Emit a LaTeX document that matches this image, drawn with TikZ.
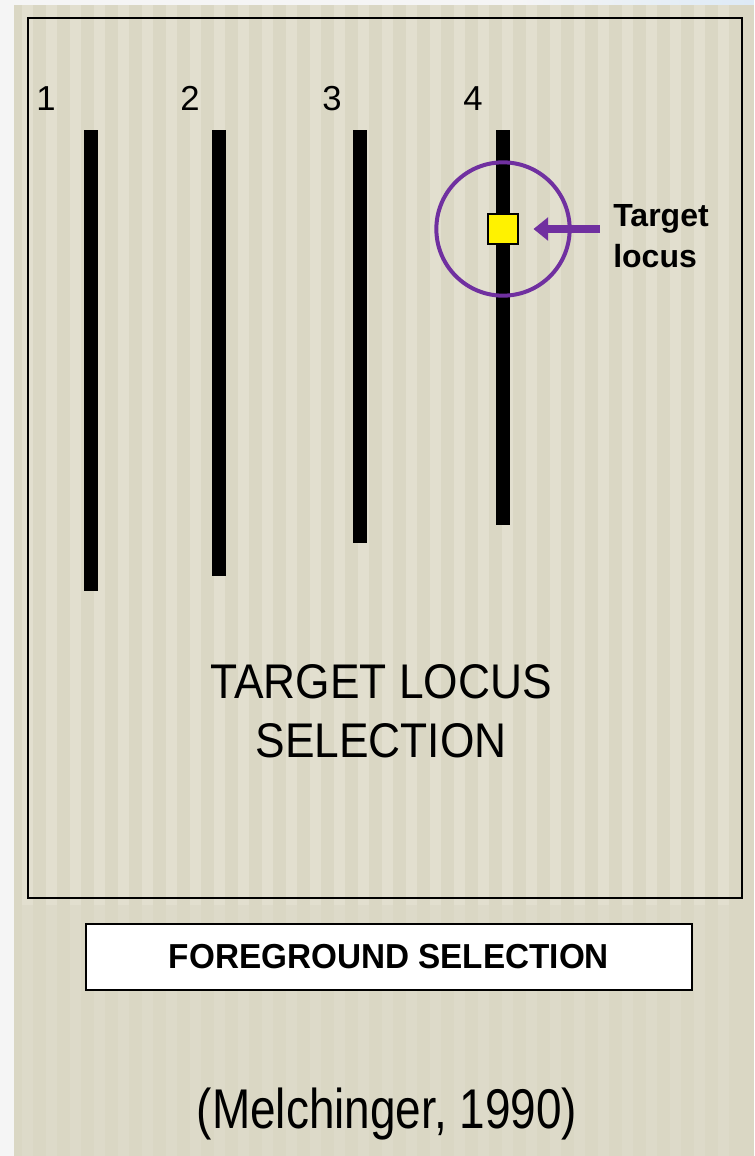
\documentclass[tikz,border=0pt]{standalone}
\usepackage{fontspec}
\setmainfont{Liberation Sans}
\usetikzlibrary{arrows.meta,positioning}
\definecolor{paper}{HTML}{DAD7C4}
\definecolor{stripe}{HTML}{ECEADD}
\definecolor{locuspurple}{HTML}{7030A0}
\definecolor{skyblue}{HTML}{DDEAF6}
\newcommand{\narrow}[2]{\scalebox{#1}[1]{#2}}

\begin{document}
\begin{tikzpicture}[x=0.75pt,y=-0.75pt]
  \tikzstyle{num}=[font=\fontsize{26}{30}\selectfont,anchor=base,inner sep=0pt]
  \tikzstyle{big}=[font=\fontsize{36.5}{40}\selectfont,anchor=base,inner sep=0pt]
  \tikzstyle{chrom}=[fill=black]

  \useasboundingbox (0,0) rectangle (754,1156);
  \fill[white!96!black] (0,0) rectangle (754,1156);
  \shade[left color=white!96!black,right color=skyblue] (520,0) rectangle (754,20);
  \fill[paper] (14,5) rectangle (754,1156);
  % light vertical stripes on the paper
  \foreach \x in {22,46,...,740} {
    \fill[stripe,opacity=0.45] (\x,5) rectangle ++(11,900);
    \fill[stripe,opacity=0.2] (\x,905) rectangle ++(11,251);
  }

  \draw[line width=1.4pt] (28,18) rectangle (742,898);

  % the four chromosomes
  \foreach \n/\x/\b/\lx in {1/91/591/46, 2/219/576/190, 3/360/543/332, 4/503/525/473} {
    \fill[chrom] (\x-7,130) rectangle (\x+7,\b);
    \node[num] (n\n) at (\lx,110) {\n};
  }

  \node[draw=black,fill=yellow,line width=1.2pt,minimum size=22.5pt,inner sep=0pt] (sq) at (503,229) {};
  \node[circle,draw=locuspurple,line width=3pt,minimum size=100pt,inner sep=0pt] (ring) at (sq) {};
  \node[font=\bfseries\fontsize{24}{31}\selectfont,align=left,anchor=north west,inner sep=0pt] (lbl) at (613,204) {Target\\locus};
  \draw[locuspurple,line width=6.5pt,-{Triangle[length=11pt,width=17pt]},shorten >=11pt]
    ([xshift=-10pt]lbl.west |- sq.east) -- (sq.east);

  \node[big] (goal) at (381,698) {\narrow{0.91}{TARGET LOCUS}};
  \node[big] (goal2) at (381,757) {\narrow{0.91}{SELECTION}};

  \node[draw=black,fill=white,line width=1.2pt,minimum width=454.5pt,minimum height=49.5pt,
        font=\bfseries\fontsize{26}{30}\selectfont] (fg) at (389,957) {\narrow{0.96}{FOREGROUND SELECTION}};

  \node[font=\fontsize{42}{46}\selectfont,anchor=base,inner sep=0pt] (cite) at (387,1128) {\narrow{0.82}{(Melchinger, 1990)}};
\end{tikzpicture}
\end{document}
